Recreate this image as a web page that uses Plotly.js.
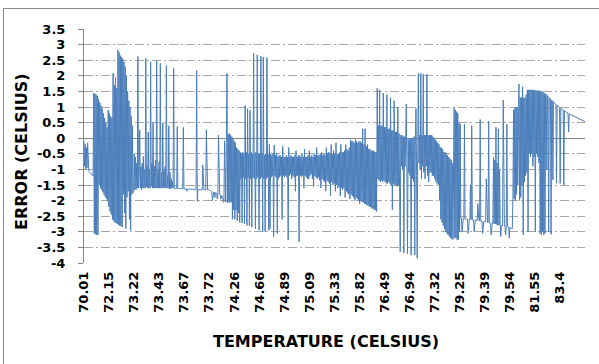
<!DOCTYPE html>
<html>
<head>
<meta charset="utf-8">
<script src="https://cdn.plot.ly/plotly-3.0.1.min.js"></script>
<style>
  html, body { margin: 0; padding: 0; background: #ffffff; }
  #wrap { position: relative; width: 599px; height: 364px; overflow: hidden; }
  #chart { width: 599px; height: 364px; }
  #frame { position: absolute; left: 3px; top: 8px; width: 640px; height: 400px;
           border-left: 1px solid #8c8c8c; border-top: 1px solid #8c8c8c; pointer-events: none; }
</style>
</head>
<body>
<div id="wrap">
  <div id="chart"></div>
  <div id="frame"></div>
</div>
<script>
// Category tick labels shown on the horizontal axis (temperature, Celsius)
var xTickLabels = ['70.01','72.15','73.22','73.43','73.67','73.72','74.26','74.66','74.89','75.09',
                   '75.33','75.82','76.49','76.94','77.32','79.25','79.39','79.54','81.55','83.4'];

// Vertical axis tick labels (error, Celsius)
var yTickLabels = ['-4','-3.5','-3','-2.5','-2','-1.5','-1','-0.5','0','0.5','1','1.5','2','2.5','3','3.5'];

var errors = [
  -0.1, -0.9, -0.2, -1.0, -0.3, -0.95, -0.15, -1.0, -1.05, -1.08,
  -1.1, -1.12, -1.15, -1.18, -1.2, -1.22,
  1.45, -3.05, 1.42, -3.08, 1.4, -3.1, 1.35, -3.1,
  1.25, -1.5, 1.15, -1.6, 1.05, -1.65, 0.95, -1.72, 0.8, -1.8,
  0.65, -1.88, 0.5, -1.95, 0.35, -2.02,
  0.9, -2.2, 0.8, -2.35, 0.7, -2.45, 0.65, -2.6,
  2.08, -2.65, 1.7, -2.7, 1.95, -2.72, 1.6, -2.75,
  2.83, -2.78, 2.75, -2.8, 2.65, -2.82, 2.6, -2.85,
  2.55, -1.8, 2.45, -2.4, 2.3, -2.9, 2.0, -1.9, 1.5, -1.7,
  1.2, -2.6, 1.0, -2.95, 0.7, -1.8, 0.4, -1.75,
  -1.7, -0.5, -1.65, -0.6, -1.65, -0.8, -1.6, 2.62,
  -1.6, -1.2, 0.26, -1.6, -0.9, -1.65, -0.8, -1.6, -0.59, -1.6,
  -1.0, -1.6, 2.56, -1.55, -0.9, -1.6, 0.2, -1.6, -1.0, -1.6,
  2.45, -1.55, -0.8, -1.6, 0.5, -1.6, -0.9, -1.6, -0.7, -1.6,
  2.48, -1.6, -1.0, -1.6, -0.75, -1.6, 2.4, -1.6, -1.1, -1.6,
  0.5, -1.58, -1.0, -1.6, -0.9, -1.6, 2.33, -1.6, -1.2, -1.6,
  0.4, -1.62, -1.1, -1.62, -1.3, -1.6, -1.4, -1.6, 2.24, -1.62,
  -1.6, -1.62, -1.6, -1.61, 0.37, -1.62, -1.6, -1.62, -1.6, -1.63,
  -1.61, -1.63, -1.6, -1.62, 0.35, -1.63, -1.62, -1.63, -1.62, -1.63,
  -1.7, -1.63, -1.62, -1.63, -1.62, -1.64, -1.63, -1.64, -1.63, -1.64,
  -1.64, -1.64, -1.63, -1.65, -1.65, -1.64, 2.17, -2.03, -1.64, -1.65,
  -1.64, -1.65, -1.65, -1.65, -1.64, -1.66, -0.86, -1.66, -1.66, -1.65,
  -1.65, -1.66, 0.27, -1.66, -1.66, -1.66, -1.65, -1.67, -1.67, -1.68,
  -1.7, -1.72, -2.0, -1.72, -1.72, -1.75, -1.9, -1.74, -1.75, -1.76,
  -1.95, -1.78, 0.1, -1.8, -1.8, -1.82, -1.95, -1.85, -1.85, -1.9,
  -2.05, -2.04, -0.08, -2.05, -2.05, 0.0, 2.08, -2.07, 0.13, -2.05,
  0.15, -2.06, 0.1, -2.05, 0.05, -2.6, 0.0, -2.3, -0.1, -2.6,
  -0.15, -2.3, -0.3, -2.65, -0.35, -2.4,
  -0.4, -2.7, -0.45, -1.3, -0.5, -2.72, -0.45, -1.25, -0.5, -2.75,
  1.05, -1.3, -0.45, -2.8, 0.95, -1.25, -0.5, -2.8, 0.9, -1.3,
  -0.45, -2.85, -0.5, -1.25, 2.72, -1.3, -0.5, -2.9, -0.45, -1.3,
  2.67, -1.25, -0.5, -2.95, -0.5, -1.3, 2.63, -1.25, -0.5, -3.0,
  2.6, -1.3, -0.55, -3.0, -0.5, -1.3, 2.58, -1.25, -0.5, -2.95,
  -0.2, -2.9, -0.5, -1.25, -0.55, -1.2, -0.5, -3.16, -0.22, -1.2,
  -0.55, -1.25, -0.5, -3.05, -0.6, -1.3, -0.55, -1.25, -0.55, -1.2,
  -0.6, -2.6, -0.26, -1.2, -0.6, -1.25, -0.6, -1.2, -0.55, -1.25,
  -0.6, -3.26, -0.3, -1.2, -0.6, -1.15, -0.55, -1.3, -0.6, -1.2,
  -0.6, -1.25, -0.55, -1.7, -0.4, -1.2, -0.6, -1.2, -0.55, -3.32,
  -0.55, -1.2, -0.6, -1.25, -0.5, -1.2, -0.6, -1.6, -0.35, -1.2,
  -0.6, -1.25, -0.6, -1.3, -0.55, -1.3, -0.4, -1.2, -0.6, -1.15,
  -0.55, -1.3, -0.6, -1.55, -0.5, -1.2, -0.55, -1.25, -0.3, -1.3,
  -0.55, -1.25, -0.55, -1.35, -0.5, -1.6, -0.45, -1.3, -0.55, -1.35,
  -0.5, -1.4, -0.55, -1.7, -0.3, -1.35, -0.5, -1.4, -0.45, -1.45,
  -0.5, -1.85, -0.2, -1.4, -0.5, -1.5, -0.4, -1.45, -0.5, -1.7,
  -0.15, -1.5, -0.5, -1.6, -0.5, -1.55, -0.45, -1.85, -0.2, -1.6,
  -0.45, -1.65, -0.45, -1.6, -0.4, -1.9, -0.2, -1.7, -0.35, -1.75,
  -0.4, -1.8, -0.3, -1.95, -0.05, -1.8, -0.1, -1.85, -0.1, -1.9,
  -0.15, -2.0, -0.05, -1.9, -0.1, -1.95, -0.15, -2.0, -0.1, -2.1,
  -0.1, -2.0, -0.15, -2.05, 0.3, -2.05, -0.2, -2.1, 0.3, -2.1,
  -0.25, -2.15, -0.2, -2.15, -0.35, -2.2, -0.35, -2.2, -0.4, -2.25,
  -0.4, -2.25, -0.4, -2.3, -0.45, -2.3, -0.45, -2.35,
  1.6, -1.3, 0.4, -1.35, 1.55, -1.4, 0.4, -1.35, 0.4, -1.4,
  1.45, -1.35, 0.35, -1.4, 0.35, -1.45, 1.4, -1.45, 0.3, -1.4,
  0.3, -1.45, 1.3, -1.5, 0.25, -2.3, 0.25, -1.45, 1.2, -1.5,
  0.2, -1.5, 0.2, -1.55, 1.0, -1.5, 0.15, -1.55,
  -3.64, 0.1, -0.9, 0.1, -1.0, 0.05, -3.68, 0.05, -0.9, 0.05,
  1.1, -1.0, -3.7, 0.0, -1.1, -0.05, -1.2, 0.0, -3.75, 0.0,
  -1.3, 0.0, -1.4, 0.05, -3.75, 0.0, 0.95, -1.2, -3.85, 0.05,
  2.08, -0.8, 0.1, -1.0, 2.08, -1.3, 0.1, -0.9, 2.05, -1.1,
  0.1, -1.3, 0.1, -0.9, 2.05, -1.2, 0.1, -1.4, 0.1, -1.1,
  0.1, -1.1, 0.1, -1.2, 0.05, -1.2, 0.0, -1.3, -0.05, -1.4,
  -0.1, -1.45, -0.15, -1.5, -0.2, -2.0,
  -0.3, -2.6, -0.3, -2.7, -0.35, -2.8, -0.45, -2.9, -0.45, -3.0,
  -0.5, -3.05, -0.55, -3.1, -0.6, -3.15, -0.65, -3.2, -0.7, -3.22,
  -0.8, -3.25,
  -1.0, 0.98, -3.2, 0.9, -3.2, 0.85, -3.25, 0.8, -3.25, 0.5,
  -3.0, 0.45,
  -2.57, -2.57, -3.0, -2.58, -2.58, -2.58, 0.45, -2.59, -2.6, -2.6,
  -2.58, -2.6, -3.05, -2.6, -2.6, -2.61, -1.5, -2.61, 0.4, -2.62,
  -2.62, -2.62, -3.0, -2.62, -2.62, -2.63, -2.64, -2.64, -2.1, -2.65,
  -2.65, -2.65, 0.6, -2.66, -2.66, -2.66, -3.05, -2.67, -2.67, -2.67,
  -2.68, -2.68, -1.3, -2.69, -2.7, -2.7, 0.55, -2.71, -2.72, -2.72,
  -3.1, -2.72, -2.7, -2.73, -0.6, -2.74, -0.7, -2.75, 0.35, -2.76,
  -0.8, -2.8, 0.3, -2.78, -1.0, -2.78, -3.15, -2.8, -2.8, -2.8,
  1.22, -2.82, -2.82, -2.82, -3.1, -2.83, 0.45, -2.84, -2.85, -2.85,
  -3.2, -2.86, -2.87, -2.88, -2.9, -2.9,
  -1.9, 0.9, -1.95, 0.95, -2.0, 1.0, -1.8, 1.0, -1.5, 1.2,
  1.74, -2.0, 1.3, -1.9, 1.3, -1.5, 1.65, -3.1, 1.3, -1.4,
  1.3, -1.2, 1.4, -1.1, 1.55, -3.0,
  1.55, -0.5, 1.55, -0.6, 1.55, -0.5, 1.55, -0.9, 1.54, -0.6,
  1.54, -3.0, 1.53, -0.5, 1.53, -0.6, 1.52, -0.8, 1.52, -3.05,
  1.5, -3.1, 1.5, -3.0, 1.47, -3.1, 1.45, -3.05,
  1.42, 1.4, -1.0, 1.37, 1.33, -3.0, 1.3, 1.28, 1.25, -3.08,
  1.22, 1.2, -1.34, 1.17, 1.15, 1.12, 1.11, 1.09, -1.44, 1.07,
  1.05, 1.03, 1.01, 0.99, -1.45, 0.97, 0.95, 0.93, 0.91, 0.9,
  -1.5, 0.88, 0.87, 0.85, 0.84, 0.82, 0.81, 0.8, 0.2, 0.78,
  0.77, 0.76, 0.75, 0.74, 0.73, 0.72, 0.71, 0.7, 0.69, 0.68,
  0.67, 0.66, 0.65, 0.64, 0.63, 0.62, 0.61, 0.6, 0.59, 0.58,
  0.57, 0.56, 0.56, 0.55, 0.54, 0.53
];

var N = errors.length;
var seq = errors.map(function (v, i) { return i; });
var step = (N - 1) / xTickLabels.length;
var xTickVals = xTickLabels.map(function (t, j) { return j * step; });
var yTickVals = yTickLabels.map(function (t) { return parseFloat(t); });

var tickFont = { family: 'DejaVu Sans', size: 13, color: '#000000', weight: 'bold' };
var titleFont = { family: 'DejaVu Sans', size: 16, color: '#000000', weight: 'bold' };

var trace = {
  type: 'scatter',
  mode: 'lines',
  x: seq,
  y: errors,
  line: { color: '#4a7ebb', width: 1 },
  hoverinfo: 'none'
};

var layout = {
  width: 599,
  height: 364,
  margin: { l: 84, r: 14, t: 29, b: 101, pad: 0 },
  paper_bgcolor: '#ffffff',
  plot_bgcolor: '#ffffff',
  showlegend: false,
  xaxis: {
    range: [0, N - 1],
    tickmode: 'array',
    tickvals: xTickVals,
    ticktext: xTickLabels,
    tickangle: -90,
    ticks: '',
    showgrid: false,
    zeroline: false,
    showline: false,
    tickfont: tickFont,
    ticklabelstandoff: 5,
    fixedrange: true
  },
  yaxis: {
    range: [-4, 3.5],
    tickmode: 'array',
    tickvals: yTickVals,
    ticktext: yTickLabels,
    showgrid: true,
    gridcolor: '#a6a6a6',
    gridwidth: 1,
    griddash: '9px,3px,2px,3px',
    zeroline: true,
    zerolinecolor: '#868686',
    zerolinewidth: 1,
    showline: true,
    linecolor: '#868686',
    linewidth: 1,
    ticks: 'outside',
    ticklen: 5,
    tickcolor: '#868686',
    tickfont: tickFont,
    ticklabelstandoff: 10,
    fixedrange: true
  },
  annotations: [
    {
      text: 'ERROR (CELSIUS)',
      xref: 'paper', yref: 'paper',
      x: (21 - 84) / 501, y: (263 - 152) / 234,
      xanchor: 'center', yanchor: 'middle',
      textangle: -90,
      showarrow: false,
      font: titleFont
    },
    {
      text: 'TEMPERATURE (CELSIUS)',
      xref: 'paper', yref: 'paper',
      x: (326 - 84) / 501, y: (263 - 341) / 234,
      xanchor: 'center', yanchor: 'middle',
      showarrow: false,
      font: titleFont
    }
  ]
};

Plotly.newPlot('chart', [trace], layout, { staticPlot: true, displayModeBar: false });
</script>
</body>
</html>
